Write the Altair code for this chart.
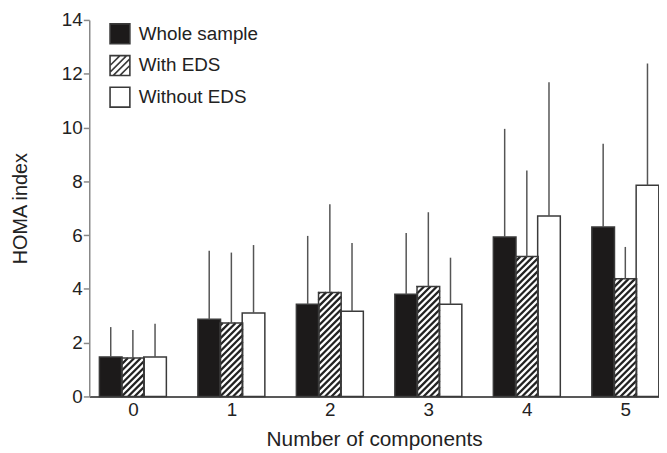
import altair as alt
import pandas as pd

groups = [0, 1, 2, 3, 4, 5]
series = ["Whole sample", "With EDS", "Without EDS"]

whole_mean = [1.47, 2.87, 3.43, 3.80, 5.93, 6.30]
whole_sd = [1.11, 2.55, 2.54, 2.28, 4.02, 3.10]
with_mean = [1.43, 2.73, 3.87, 4.09, 5.20, 4.38]
with_sd = [1.04, 2.62, 3.28, 2.76, 3.20, 1.18]
without_mean = [1.47, 3.10, 3.17, 3.43, 6.71, 7.85]
without_sd = [1.23, 2.53, 2.54, 1.73, 4.97, 4.53]

y_ticks = [0, 2, 4, 6, 8, 10, 12, 14]

# layout
W, H = 575, 380
XMIN, XMAX = -0.443, 5.342
YMIN, YMAX = 0, 14
PX_X = W / (XMAX - XMIN)
PX_Y = H / (YMAX - YMIN)
offsets = [-0.225, 0.0, 0.225]
HALF = 0.115

rows = []
for si, (name, means, sds) in enumerate(zip(series, [whole_mean, with_mean, without_mean],
                                              [whole_sd, with_sd, without_sd])):
    for g, m, sd in zip(groups, means, sds):
        c = g + offsets[si]
        rows.append(dict(series=name, group=g, x=c - HALF, x2=c + HALF, xc=c,
                         val=m, top=m + sd, base=0))
bars = pd.DataFrame(rows)

# hatch lines for the "With EDS" bars (computed from bar geometry)
hrows = []
step = 6.5
for r in bars[bars["series"] == "With EDS"].to_dict("records"):
    bw = (r["x2"] - r["x"]) * PX_X
    bh = r["val"] * PX_Y
    c = -bw + step / 2
    while c < bh:
        u0 = max(0.0, -c)
        u1 = min(bw, bh - c)
        if u1 > u0:
            hrows.append(dict(hx=r["x"] + u0 / PX_X, hx2=r["x"] + u1 / PX_X,
                              hy=(u0 + c) / PX_Y, hy2=(u1 + c) / PX_Y))
        c += step
hatch = pd.DataFrame(hrows)

FONT = "Liberation Sans"
TXT = "#222222"

xs = alt.Scale(domain=[XMIN, XMAX], nice=False, zero=False)
ys = alt.Scale(domain=[YMIN, YMAX], nice=False)

xaxis = alt.Axis(values=groups, format="d", ticks=False, grid=False, domainColor="#222222",
                 domainWidth=1.5, labelFontSize=19, labelPadding=4, labelColor=TXT,
                 title="Number of components", titleFontSize=21, titleFontWeight="normal",
                 titleColor=TXT, titlePadding=9, labelFont=FONT, titleFont=FONT)
yaxis = alt.Axis(values=y_ticks, grid=False, domainColor="#888888", domainWidth=1.5,
                 tickColor="#888888", tickSize=6, tickWidth=1.5, labelFontSize=19,
                 labelPadding=1, labelColor=TXT, title="HOMA index", titleFontSize=20,
                 titleFontWeight="normal", titleColor=TXT, titlePadding=31,
                 labelFont=FONT, titleFont=FONT)

bar_fill = alt.Chart(bars).mark_bar(strokeWidth=0).encode(
    x=alt.X("x:Q", scale=xs, axis=xaxis),
    x2="x2:Q",
    y=alt.Y("val:Q", scale=ys, axis=yaxis),
    y2="base:Q",
    fill=alt.condition(alt.datum.series == "Whole sample", alt.value("#1c1a1a"), alt.value("white")),
)

hatch_layer = alt.Chart(hatch).mark_rule(color="#222222", strokeWidth=2.3).encode(
    x=alt.X("hx:Q", scale=xs), x2="hx2:Q",
    y=alt.Y("hy:Q", scale=ys), y2="hy2:Q",
)

outline = alt.Chart(bars).mark_bar(fillOpacity=0, stroke="#3a3a3a", strokeWidth=1.5).encode(
    x=alt.X("x:Q", scale=xs), x2="x2:Q",
    y=alt.Y("val:Q", scale=ys), y2="base:Q",
)

errs = alt.Chart(bars).mark_rule(color="#555555", strokeWidth=1.5).encode(
    x=alt.X("xc:Q", scale=xs),
    y=alt.Y("val:Q", scale=ys), y2="top:Q",
)

sq = "M-1,-1H1V1H-1Z"
hsq = ("M-1,-1H1V1H-1Z M-1,0L0,-1 M-1,0.67L0.67,-1 M-0.67,1L1,-0.67 M0,1L1,0")

leg = alt.Legend(title=None, orient="none", legendX=20, legendY=3, padding=0,
                 symbolSize=400, symbolOpacity=1, symbolStrokeColor="#3a3a3a",
                 symbolStrokeWidth=1.6, labelFontSize=19, labelFont=FONT, labelColor=TXT,
                 labelOffset=8, rowPadding=4)

legend_layer = alt.Chart(pd.DataFrame({"series": series})).mark_point(
    filled=True, opacity=0, size=400, strokeWidth=1.6
).encode(
    x=alt.value(0), y=alt.value(0),
    fill=alt.Fill("series:N", scale=alt.Scale(domain=series, range=["#1c1a1a", "white", "white"]),
                  legend=leg),
    stroke=alt.Stroke("series:N", scale=alt.Scale(domain=series, range=["#3a3a3a", "#3a3a3a", "#3a3a3a"]),
                      legend=leg),
    shape=alt.Shape("series:N", scale=alt.Scale(domain=series, range=[sq, hsq, sq]), legend=leg),
)

chart = alt.layer(bar_fill, hatch_layer, outline, errs, legend_layer).properties(
    width=W, height=H,
    autosize=alt.AutoSizeParams(type="none"),
    padding={"left": 82, "top": 10, "right": 0, "bottom": 55},
).configure(font=FONT).configure_view(stroke=None)

chart.save("out.html", embed_options={"renderer": "svg", "actions": False})
